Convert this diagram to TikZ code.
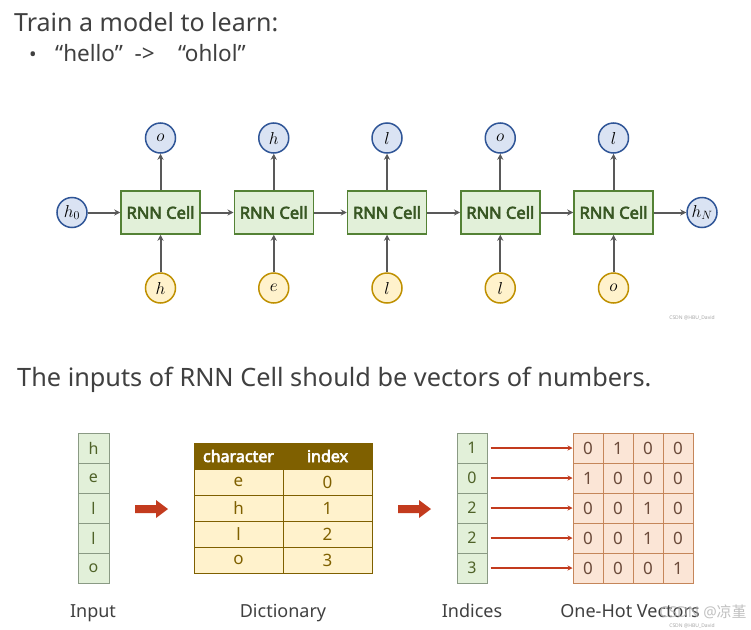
\documentclass[tikz,border=0pt]{standalone}
\usepackage{fontspec}
\setmainfont{Noto Sans}[BoldFont={Noto Sans},BoldFeatures={FakeBold=3.5}]
\newfontfamily\cjk{Noto Sans CJK SC}
\usetikzlibrary{arrows.meta}
\definecolor{txt}{HTML}{404040}
\definecolor{bfill}{HTML}{DAE3F3}
\definecolor{bline}{HTML}{2F5597}
\definecolor{yfill}{HTML}{FFF2CC}
\definecolor{yline}{HTML}{BF9000}
\definecolor{gfill}{HTML}{E2F0D9}
\definecolor{gline}{HTML}{548235}
\definecolor{gtext}{HTML}{385723}
\definecolor{colline}{HTML}{8A9A84}
\definecolor{coltext}{HTML}{4F6228}
\definecolor{hdr}{HTML}{7F6000}
\definecolor{ofill}{HTML}{FBE5D6}
\definecolor{oline}{HTML}{C5865A}
\definecolor{otext}{HTML}{6B4A3A}
\definecolor{redc}{HTML}{C33B1E}
\definecolor{arrg}{HTML}{595959}
\tikzset{
  cell/.style={draw=gline, fill=gfill, line width=1.5pt, minimum width=79pt, minimum height=43pt,
    font=\fontsize{16.5}{19}\selectfont\bfseries, text=gtext, inner sep=0pt},
  outc/.style={circle, draw=bline, fill=bfill, line width=1.5pt, minimum size=30pt, inner sep=0pt,
    font=\fontsize{17}{20}\selectfont},
  inc/.style={circle, draw=yline, fill=yfill, line width=1.5pt, minimum size=30pt, inner sep=0pt,
    font=\fontsize{17}{20}\selectfont},
  garrow/.style={draw=arrg, line width=2pt, -{Stealth[length=6pt,width=6pt]}},
  colcell/.style={draw=colline, fill=gfill, line width=1pt, minimum width=31pt, minimum height=30pt,
    inner sep=0pt, text=coltext, font=\fontsize{16}{19}\selectfont},
  hdcell/.style={draw=hdr, fill=hdr, line width=0.8pt, minimum width=89pt, minimum height=26pt,
    inner sep=0pt, text=white, font=\fontsize{16}{19}\selectfont\bfseries},
  tcell/.style={draw=hdr, fill=yfill, line width=0.7pt, minimum width=89pt, minimum height=26pt,
    inner sep=0pt, text=hdr, font=\fontsize{17}{20}\selectfont},
  ocell/.style={draw=oline, fill=ofill, line width=1pt, minimum width=30pt, minimum height=30pt,
    inner sep=0pt, text=otext, font=\fontsize{17}{20}\selectfont},
  rarrow/.style={draw=redc, line width=1.8pt, -{Stealth[length=5pt,width=5pt]}},
  lbl/.style={anchor=base, text=txt, font=\fontsize{18}{22}\selectfont},
  wm/.style={text=gray!70, font=\fontsize{5}{6}\selectfont}
}
\begin{document}
\begin{tikzpicture}[x=1pt,y=-1pt]
\path[use as bounding box, fill=white] (0,0) rectangle (751,629);
% titles
\node[anchor=base west, inner sep=0pt, text=txt, font=\fontsize{25}{30}\selectfont] (t1) at (14,31) {Train a model to learn:};
\node[anchor=base west, inner sep=0pt, text=txt, font=\fontsize{20}{24}\selectfont] (b1) at (29,61) {•};
\node[anchor=base west, inner sep=0pt, text=txt, font=\fontsize{22.5}{26}\selectfont] (t2) at (55,61) {“hello”\ \ ->\ \ \ \ “ohlol”};
% RNN chain
\foreach \i/\o/\n in {1/o/h,2/h/e,3/l/l,4/o/l,5/l/o}{
  \pgfmathsetmacro{\xx}{160.5+113.25*(\i-1)}
  \node[cell] (c\i) at (\xx,212.5) {RNN Cell};
  \node[outc] (o\i) at (\xx,138) {$\o$};
  \node[inc] (i\i) at (\xx,288) {$\n$};
  \draw[garrow] (i\i) -- (c\i);
  \draw[garrow] (c\i) -- (o\i);
}
\node[outc] (h0) at (72,212.5) {$h_0$};
\node[outc] (hN) at (702,212.5) {$h_N$};
\draw[garrow] (h0) -- (c1);
\draw[garrow] (c1) -- (c2);
\draw[garrow] (c2) -- (c3);
\draw[garrow] (c3) -- (c4);
\draw[garrow] (c4) -- (c5);
\draw[garrow] (c5) -- (hN);
\node[wm] (w1) at (692,318) {CSDN @HBU\_David};
% second title
\node[anchor=base west, inner sep=0pt, text=txt, font=\fontsize{25.3}{30}\selectfont] (t3) at (17,386) {The inputs of RNN Cell should be vectors of numbers.};
% input column
\foreach \k/\ch in {1/h,2/e,3/l,4/l,5/o}{
  \node[colcell] (in\k) at (93.5,{418+30*\k}) {\ch};
}
% dictionary
\node[hdcell] (hd1) at (238.5,456) {character};
\node[hdcell] (hd2) at (327.5,456) {index};
\foreach \k/\ch/\v in {1/e/0,2/h/1,3/l/2,4/o/3}{
  \node[tcell] (ra\k) at (238.5,{456+26*\k}) {\ch};
  \node[tcell] (rb\k) at (327.5,{456+26*\k}) {\v};
}
% block arrows
\fill[redc] (135,505) -- (156,505) -- (156,500) -- (168,509) -- (156,518) -- (156,513) -- (135,513) -- cycle;
\fill[redc] (398,505) -- (419,505) -- (419,500) -- (431,509) -- (419,518) -- (419,513) -- (398,513) -- cycle;
% indices
\foreach \k/\v in {1/1,2/0,3/2,4/2,5/3}{
  \node[colcell, minimum width=30pt] (ix\k) at (472,{418+30*\k}) {\v};
}
% one-hot
\foreach \r/\a/\b/\c/\d in {1/0/1/0/0,2/1/0/0/0,3/0/0/1/0,4/0/0/1/0,5/0/0/0/1}{
  \node[ocell] (m\r1) at (588,{418+30*\r}) {\a};
  \node[ocell] (m\r2) at (618,{418+30*\r}) {\b};
  \node[ocell] (m\r3) at (648,{418+30*\r}) {\c};
  \node[ocell] (m\r4) at (678,{418+30*\r}) {\d};
  \draw[rarrow] ([xshift=3pt]ix\r.east) -- (m\r1.west);
}
% labels
\node[lbl] (l1) at (93,617) {Input};
\node[lbl] (l2) at (283,617) {Dictionary};
\node[lbl] (l3) at (472,617) {Indices};
\node[lbl] (l4) at (630,617) {One-Hot Vectors};
\node[anchor=base, text=gray!60, opacity=0.8, font=\fontsize{15}{18}\selectfont] (w2) at (703,617) {CSDN @{\cjk 凉堇}};
\node[wm] (w3) at (692,626) {CSDN @HBU\_David};
\end{tikzpicture}
\end{document}
